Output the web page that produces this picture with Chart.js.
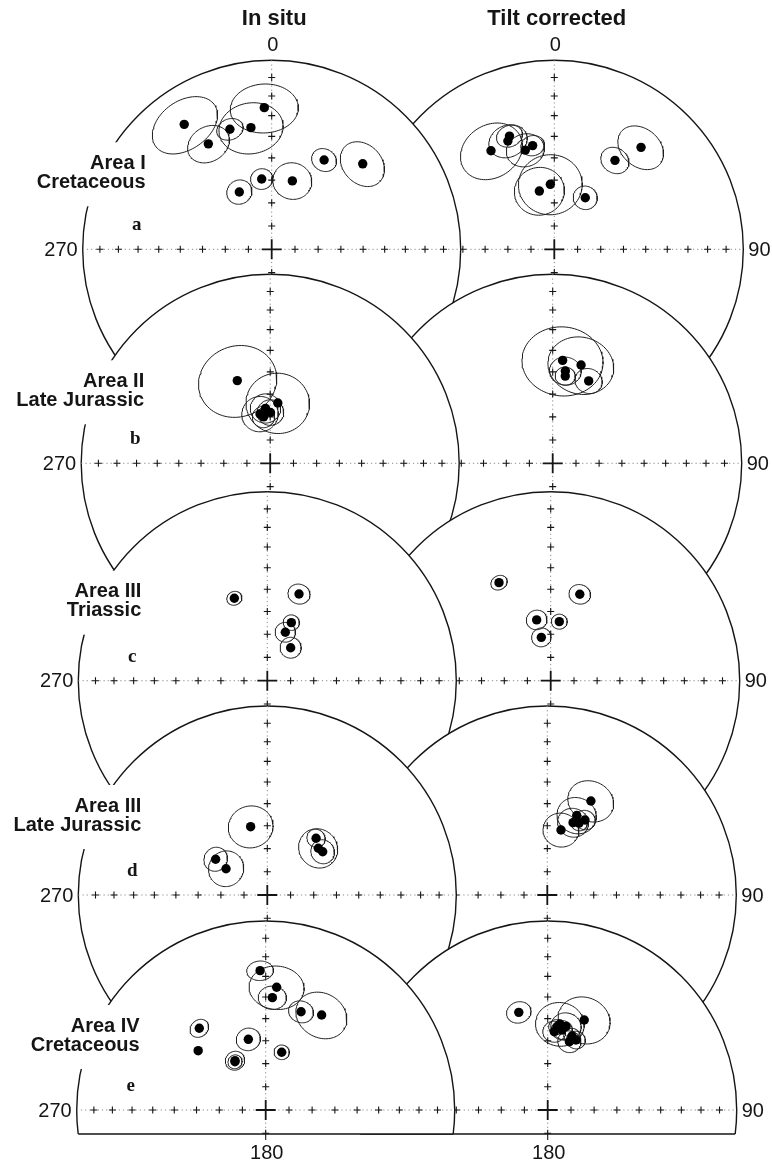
<!DOCTYPE html>
<html>
<head>
<meta charset="utf-8">
<script src="https://cdn.jsdelivr.net/npm/chart.js@4.4.1/dist/chart.umd.min.js"></script>
<style>
  html, body { margin: 0; padding: 0; background: #fff; }
  #stage { position: relative; width: 772px; height: 1162px; overflow: hidden; background: #fff; }
  #stage canvas { position: absolute; left: 0; top: 0; }
</style>
</head>
<body>
<div id="stage"></div>
<script>
// ---- Site mean directions (declination, inclination, alpha95 in degrees) ----
// Area I, Cretaceous
const areaI_insitu_dec = [325.0, 329.0, 340.8, 350.3, 357.0, 351.9, 330.5, 16.8, 30.4, 46.8];
const areaI_insitu_inc = [20.4, 35.2, 33.2, 35.0, 25.9, 59.2, 61.5, 59.0, 44.4, 34.3];
const areaI_insitu_a95 = [12.7, 8.4, 5.1, 12.3, 12.4, 4.6, 5.3, 8.1, 5.1, 9.4];
const areaI_tilt_dec = [327.3, 336.8, 338.4, 343.7, 348.2, 345.6, 356.5, 31.0, 34.3, 40.4];
const areaI_tilt_inc = [38.0, 37.7, 35.8, 44.5, 43.3, 64.0, 61.8, 64.0, 42.5, 29.9];
const areaI_tilt_a95 = [12.6, 7.6, 5.1, 7.6, 4.7, 10.5, 13.3, 5.1, 5.8, 9.4];

// Area II, Late Jurassic
const areaII_insitu_dec = [338.3, 7.2, 348.3, 355.1, 0.3, 351.8];
const areaII_insitu_inc = [51.1, 63.7, 68.3, 66.2, 68.1, 69.8];
const areaII_insitu_a95 = [16.1, 13.3, 7.7, 6.4, 5.6, 4.7];
const areaII_tilt_dec = [5.5, 16.1, 7.8, 8.2, 23.6];
const areaII_tilt_inc = [44.5, 45.0, 49.2, 51.5, 50.7];
const areaII_tilt_a95 = [16.1, 13.2, 6.4, 4.1, 5.6];

// Area III, Triassic
const areaIIIt_insitu_dec = [338.2, 20.1, 22.5, 20.4, 35.3];
const areaIIIt_insitu_inc = [51.2, 49.6, 62.8, 67.7, 72.6];
const areaIIIt_insitu_a95 = [3.1, 4.5, 3.4, 4.3, 4.5];
const areaIIIt_tilt_dec = [332.2, 18.6, 347.0, 8.3, 347.8];
const areaIIIt_tilt_inc = [41.0, 50.1, 63.0, 64.2, 70.9];
const areaIIIt_tilt_a95 = [3.3, 4.4, 4.3, 3.3, 4.1];

// Area III, Late Jurassic
const areaIIIj_insitu_dec = [346.3, 304.7, 302.5, 40.7, 47.5, 52.0];
const areaIIIj_insitu_inc = [59.5, 62.8, 68.9, 57.5, 60.0, 59.5];
const areaIIIj_insitu_a95 = [9.3, 5.1, 7.6, 3.9, 8.4, 5.1];
const areaIIIj_tilt_dec = [24.9, 20.3, 11.9, 19.6, 26.7, 23.8];
const areaIIIj_tilt_inc = [44.4, 53.0, 61.2, 56.6, 53.4, 55.8];
const areaIIIj_tilt_a95 = [9.3, 8.1, 7.5, 6.4, 4.3, 3.4];

// Area IV, Cretaceous
const areaIV_insitu_dec = [357.7, 5.1, 3.4, 19.8, 30.5, 320.9, 311.3, 346.2, 328.1, 327.5, 15.5];
const areaIV_insitu_inc = [27.1, 35.1, 40.2, 44.0, 41.3, 43.6, 50.7, 58.4, 64.9, 65.3, 64.1];
const areaIV_insitu_a95 = [4.9, 10.5, 5.5, 5.0, 10.4, 3.9, 1.5, 5.0, 4.1, 3.0, 3.2];
const areaIV_tilt_dec = [343.5, 22.1, 8.1, 12.4, 4.8, 17.6, 22.0, 6.4, 18.2, 10.1];
const areaIV_tilt_inc = [45.2, 47.4, 52.1, 52.7, 55.8, 58.9, 57.2, 53.6, 56.1, 54.6];
const areaIV_tilt_a95 = [4.9, 10.6, 9.9, 6.2, 4.7, 4.8, 3.9, 3.4, 3.4, 4.3];

// Row labels and net graticule (inclination ticks every 10 degrees)
const rowNames = [['Area I', 'Cretaceous'], ['Area II', 'Late Jurassic'], ['Area III', 'Triassic'],
                  ['Area III', 'Late Jurassic'], ['Area IV', 'Cretaceous']];
const rowLetters = ['a', 'b', 'c', 'd', 'e'];
const columnTitles = ['In situ', 'Tilt corrected'];
const netTickInc = [10, 20, 30, 40, 50, 60, 70, 80];

// ---- Layout ----
const W = 772, H = 1162, R = 189;
const LEFT_CX = [271.7, 270.2, 267.3, 267.3, 265.7];
const RIGHT_CX = [554.3, 552.7, 550.7, 547.3, 547.7];
const ROW_CY = [249.3, 463.3, 680.7, 895, 1110];
const LABEL_DY = [-86, -82, -89, -89, -84];   // first label line above the net centre
const BASE_Y = 1134;           // lower edge of the bottom row of nets
const INK = '#151515';
const SANS = '"Liberation Sans", Arial, Helvetica, sans-serif';
const SERIF = '"Liberation Serif", "Times New Roman", serif';

const D2R = Math.PI / 180;

// Lambert equal-area projection (lower hemisphere), primitive radius = 1
function project(dec, inc) {
  const th = (90 - inc) * D2R;
  const rho = Math.SQRT2 * Math.sin(th / 2);
  return { x: rho * Math.sin(dec * D2R), y: rho * Math.cos(dec * D2R) };
}

// Small circle of radius a95 around a direction, projected
function coneOfConfidence(dec, inc, a95, n = 90) {
  const sd = Math.sin(dec * D2R), cd = Math.cos(dec * D2R);
  const si = Math.sin(inc * D2R), ci = Math.cos(inc * D2R);
  const d = [ci * cd, ci * sd, si];          // north, east, down
  const e1 = [si * cd, si * sd, -ci];
  const e2 = [-sd, cd, 0];
  const ca = Math.cos(a95 * D2R), sa = Math.sin(a95 * D2R);
  const pts = [];
  for (let k = 0; k <= n; k++) {
    const t = 2 * Math.PI * k / n;
    const v = [0, 1, 2].map(i => ca * d[i] + sa * (Math.cos(t) * e1[i] + Math.sin(t) * e2[i]));
    const z = Math.max(-1, Math.min(1, v[2]));
    const h = Math.hypot(v[0], v[1]);
    const rho = Math.SQRT2 * Math.sin(Math.acos(z) / 2);
    pts.push({ x: h ? rho * v[1] / h : 0, y: h ? rho * v[0] / h : 0 });
  }
  return pts;
}

const sets = [
  [[areaI_insitu_dec, areaI_insitu_inc, areaI_insitu_a95], [areaI_tilt_dec, areaI_tilt_inc, areaI_tilt_a95]],
  [[areaII_insitu_dec, areaII_insitu_inc, areaII_insitu_a95], [areaII_tilt_dec, areaII_tilt_inc, areaII_tilt_a95]],
  [[areaIIIt_insitu_dec, areaIIIt_insitu_inc, areaIIIt_insitu_a95], [areaIIIt_tilt_dec, areaIIIt_tilt_inc, areaIIIt_tilt_a95]],
  [[areaIIIj_insitu_dec, areaIIIj_insitu_inc, areaIIIj_insitu_a95], [areaIIIj_tilt_dec, areaIIIj_tilt_inc, areaIIIj_tilt_a95]],
  [[areaIV_insitu_dec, areaIV_insitu_inc, areaIV_insitu_a95], [areaIV_tilt_dec, areaIV_tilt_inc, areaIV_tilt_a95]]
];

function plus(ctx, px, py, s, lw) {
  ctx.lineWidth = lw;
  ctx.beginPath();
  ctx.moveTo(px - s, py); ctx.lineTo(px + s, py);
  ctx.moveTo(px, py - s); ctx.lineTo(px, py + s);
  ctx.stroke();
}

function netPlugin(p) {
  return {
    id: 'net',
    beforeDatasetsDraw(chart) {
      const { ctx, chartArea, scales: { x, y } } = chart;
      const cx = x.getPixelForValue(0), cy = y.getPixelForValue(0);
      const rr = x.getPixelForValue(1) - cx;
      ctx.save();
      ctx.beginPath();
      ctx.rect(0, 0, W, p.last ? chartArea.bottom : H);
      ctx.clip();
      // opaque net disc with its primitive circle
      ctx.beginPath();
      ctx.arc(cx, cy, rr, 0, Math.PI * 2);
      ctx.fillStyle = '#fff';
      ctx.fill();
      ctx.lineWidth = 1.4;
      ctx.strokeStyle = INK;
      ctx.stroke();
      // dotted N-S and E-W diameters
      ctx.setLineDash([1.2, 3]);
      ctx.lineWidth = 1;
      ctx.strokeStyle = '#8a8a8a';
      ctx.beginPath();
      ctx.moveTo(cx - rr, cy); ctx.lineTo(cx + rr, cy);
      ctx.moveTo(cx, cy - rr); ctx.lineTo(cx, cy + rr);
      ctx.stroke();
      ctx.setLineDash([]);
      // inclination ticks
      ctx.strokeStyle = INK;
      netTickInc.forEach(inc => {
        const off = x.getPixelForValue(Math.SQRT2 * Math.sin((90 - inc) / 2 * D2R)) - cx;
        plus(ctx, cx - off, cy, 3.5, 1.1);
        plus(ctx, cx + off, cy, 3.5, 1.1);
        plus(ctx, cx, cy - off, 3.5, 1.1);
        plus(ctx, cx, cy + off, 3.5, 1.1);
      });
      plus(ctx, cx, cy, 10, 1.8);
      ctx.restore();
      if (p.last) {
        const yb = chartArea.bottom;
        const half = Math.sqrt(rr * rr - (yb - cy) * (yb - cy));
        ctx.save();
        ctx.strokeStyle = INK;
        ctx.lineWidth = 1.5;
        ctx.beginPath();
        ctx.moveTo(cx - half, yb); ctx.lineTo(cx + half, yb);
        ctx.stroke();
        ctx.lineWidth = 1.1;
        ctx.beginPath();
        ctx.moveTo(cx, yb); ctx.lineTo(cx, yb + 6);
        ctx.stroke();
        ctx.restore();
      }
    },
    afterDraw(chart) {
      const { ctx, scales: { x, y } } = chart;
      const cx = x.getPixelForValue(0), cy = y.getPixelForValue(0);
      const rr = x.getPixelForValue(1) - cx;
      ctx.save();
      ctx.fillStyle = INK;
      ctx.textBaseline = 'middle';
      ctx.font = '20px ' + SANS;
      if (p.row === 0) {
        ctx.textAlign = 'center';
        ctx.fillText('0', cx + 1, cy - rr - 15);
        ctx.font = 'bold 22px ' + SANS;
        ctx.fillText(columnTitles[p.col], cx + 2.5, 19);
        ctx.font = '20px ' + SANS;
      }
      if (p.last) {
        ctx.textAlign = 'center';
        ctx.fillText('180', cx + 1, 1153);
      }
      if (p.col === 0) {
        ctx.textAlign = 'right';
        ctx.fillText('270', cx - rr - 5, cy + 1);
        // area label on a white plate that interrupts the primitive
        const ly = cy + LABEL_DY[p.row];
        ctx.fillStyle = '#fff';
        ctx.fillRect(cx - 262, ly - 21, 141, 64);
        ctx.fillStyle = INK;
        ctx.font = 'bold 20px ' + SANS;
        ctx.fillText(rowNames[p.row][0], cx - 126, ly);
        ctx.fillText(rowNames[p.row][1], cx - 126, ly + 19);
        ctx.textAlign = 'center';
        ctx.font = 'bold 19px ' + SERIF;
        ctx.fillText(rowLetters[p.row], cx - 135, cy - 24);
      } else {
        ctx.textAlign = 'left';
        ctx.fillText('90', cx + rr + 5, cy + 1);
      }
      ctx.restore();
    }
  };
}

function makePanel(row, col) {
  const stage = document.getElementById('stage');
  const cv = document.createElement('canvas');
  cv.width = W; cv.height = H;
  cv.style.width = W + 'px'; cv.style.height = H + 'px';
  stage.appendChild(cv);

  const cx = col === 0 ? LEFT_CX[row] : RIGHT_CX[row];
  const cy = ROW_CY[row];
  const last = row === ROW_CY.length - 1;
  const bottom = last ? BASE_Y : cy + R;
  const [decs, incs, a95s] = sets[row][col];

  const datasets = [{
    data: decs.map((d, i) => project(d, incs[i])),
    showLine: false,
    pointRadius: 4.7,
    pointHoverRadius: 4.7,
    pointBackgroundColor: '#000',
    pointBorderWidth: 0
  }];
  decs.forEach((d, i) => {
    datasets.push({
      data: coneOfConfidence(d, incs[i], a95s[i]),
      showLine: true,
      borderColor: '#1e1e1e',
      borderWidth: 1,
      pointRadius: 0,
      pointHoverRadius: 0,
      fill: false,
      tension: 0
    });
  });

  new Chart(cv, {
    type: 'scatter',
    data: { datasets },
    options: {
      responsive: false,
      animation: false,
      devicePixelRatio: 1,
      events: [],
      layout: { padding: { left: cx - R, right: W - (cx + R), top: cy - R, bottom: H - bottom } },
      scales: {
        x: { type: 'linear', min: -1, max: 1, display: false },
        y: { type: 'linear', min: -(bottom - cy) / R, max: 1, display: false }
      },
      plugins: { legend: { display: false }, tooltip: { enabled: false } }
    },
    plugins: [netPlugin({ row, col, last })]
  });
}

// later nets sit on top: right before left, top row first
for (let r = 0; r < ROW_CY.length; r++) {
  makePanel(r, 1);
  makePanel(r, 0);
}
</script>
</body>
</html>
